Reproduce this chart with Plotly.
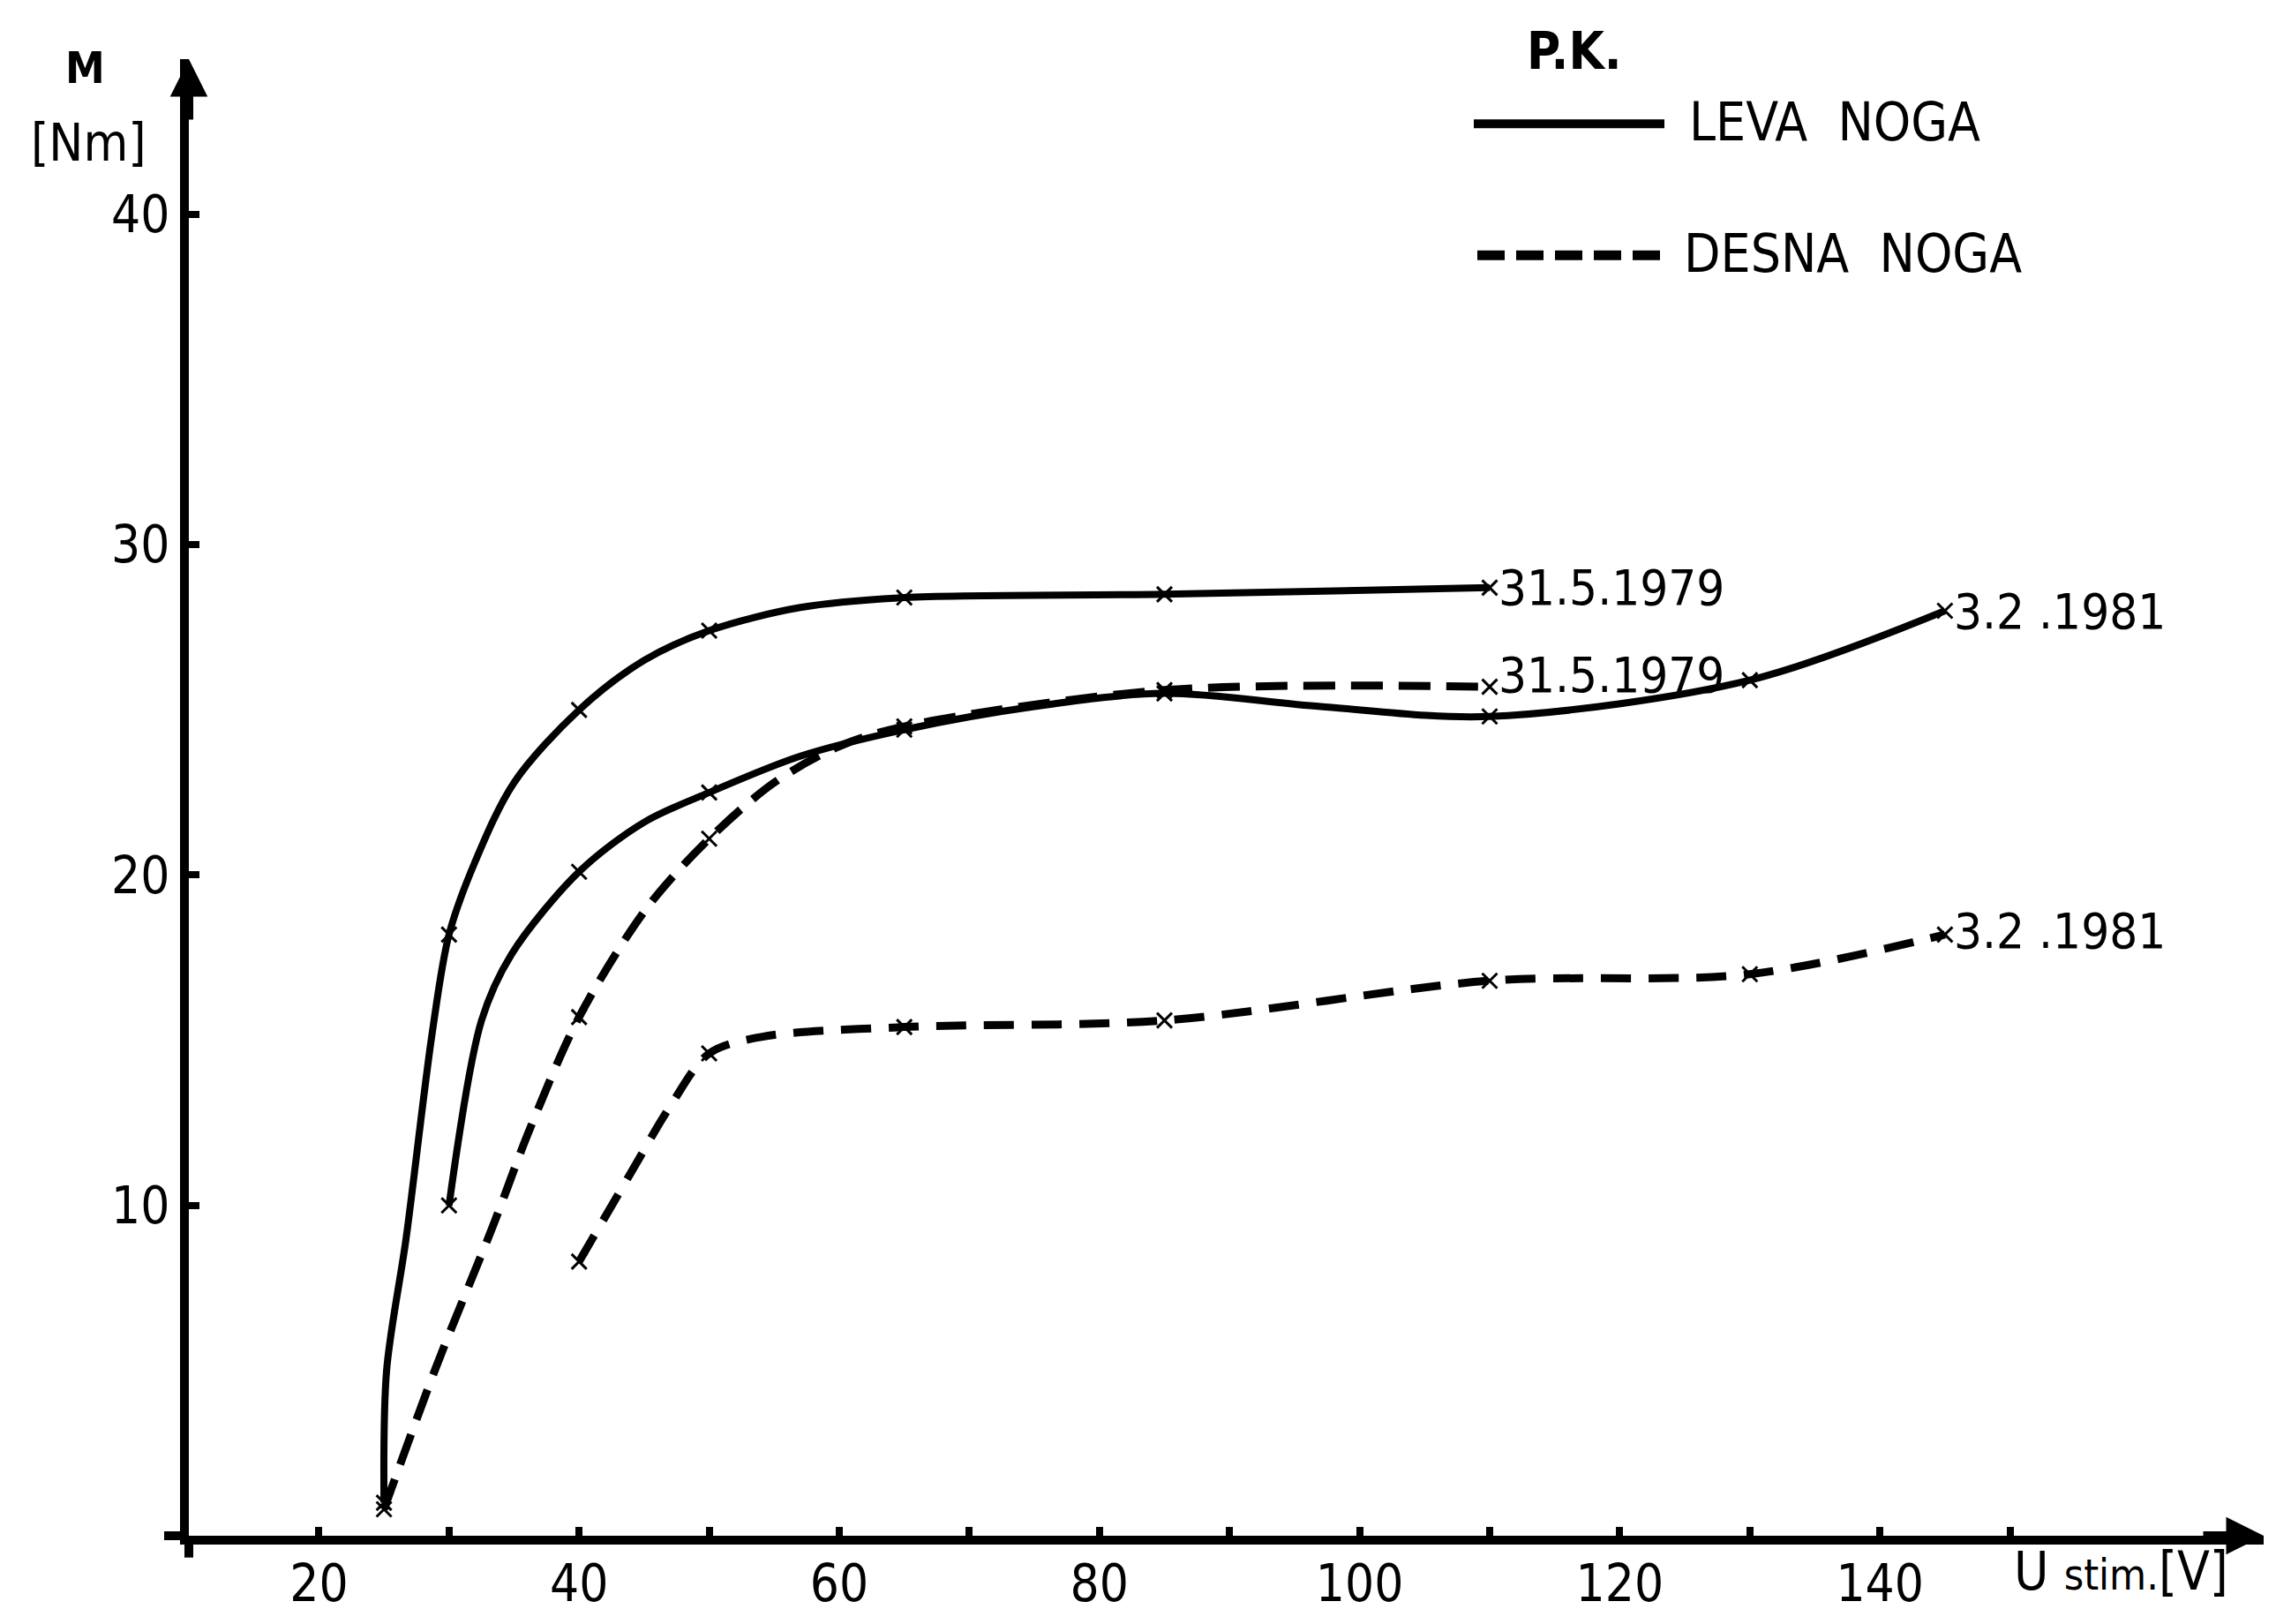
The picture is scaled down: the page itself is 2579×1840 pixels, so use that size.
import plotly.graph_objects as go

# ---------------- data ----------------
x_tick_vals = [20, 30, 40, 50, 60, 70, 80, 90, 100, 110, 120, 130, 140, 150]
x_tick_text = ["20", "", "40", "", "60", "", "80", "", "100", "", "120", "", "140", ""]
y_tick_vals = [10, 20, 30, 40]
y_tick_text = ["10", "20", "30", "40"]

# stimulation voltages at which measurements were marked (x-marks)
measured_u = [25, 30, 40, 50, 65, 85, 110, 130, 145]

# LEVA NOGA (solid)
leva_1979_u = [25, 25.2, 26.7, 28.7, 30, 32, 35, 40, 45, 50, 57, 65, 85, 110]
leva_1979_m = [1.0, 5.0, 9.0, 15.2, 18.2, 20.4, 22.8, 25.0, 26.5, 27.4, 28.1, 28.4, 28.5, 28.7]

leva_1981_u = [30, 32.5, 34.8, 40, 45, 50, 57, 65, 75, 85, 97, 110, 130, 145]
leva_1981_m = [10.0, 15.6, 17.6, 20.1, 21.6, 22.5, 23.6, 24.4, 25.1, 25.5, 25.1, 24.8, 25.9, 28.0]

# DESNA NOGA (dashed)
desna_1979_u = [25, 29, 33.4, 36.2, 40, 45.2, 50, 55, 60, 65, 85, 110]
desna_1979_m = [0.8, 5.1, 9.4, 12.3, 15.7, 19.0, 21.1, 22.8, 23.9, 24.5, 25.6, 25.7]

desna_1981_u = [40, 44, 47, 50, 54, 65, 85, 110, 130, 145]
desna_1981_m = [8.3, 11.0, 13.0, 14.6, 15.1, 15.4, 15.6, 16.8, 17.0, 18.2]

series_names = ["LEVA NOGA 31.5.1979", "LEVA NOGA 3.2.1981",
                "DESNA NOGA 31.5.1979", "DESNA NOGA 3.2.1981"]
series_labels = ["31.5.1979", "3.2 .1981", "31.5.1979", "3.2 .1981"]

# ---------------- figure ----------------
W, H = 2579, 1840
L, R, T, B = 214, 14, 67, 80
FONT = "DejaVu Sans Condensed, DejaVu Sans, sans-serif"


def px2x(px):
    return (px - L) / (W - L - R)


def py2y(py):
    return (H - B - py) / (H - T - B)


fig = go.Figure()

series = [
    (leva_1979_u, leva_1979_m, "solid", 8, 0),
    (leva_1981_u, leva_1981_m, "solid", 8, 0),
    (desna_1979_u, desna_1979_m, "36px,18px", 9, 14),
    (desna_1981_u, desna_1981_m, "34px,20px", 9, 4),
]

for (u, m, dash, w, yshift), name, lab in zip(series, series_names, series_labels):
    fig.add_trace(go.Scatter(
        x=u, y=m, mode="lines", name=name, showlegend=False,
        line=dict(color="black", width=w, dash=dash, shape="spline", smoothing=0.9),
    ))
    mu = [a for a in u if a in measured_u]
    mm = [b for a, b in zip(u, m) if a in measured_u]
    fig.add_trace(go.Scatter(
        x=mu, y=mm, mode="markers", showlegend=False, hoverinfo="skip",
        marker=dict(symbol="x-thin", size=17, line=dict(color="black", width=3)),
    ))
    fig.add_annotation(x=u[-1], y=m[-1], xref="x", yref="y", text=lab,
                       showarrow=False, xanchor="left", yanchor="middle",
                       xshift=8, yshift=yshift,
                       font=dict(family=FONT, size=56, color="black"))

# axis arrowheads
fig.add_annotation(x=0, y=1, xref="paper", yref="paper", ax=0, ay=70,
                   showarrow=True, arrowhead=2, arrowsize=0.85, arrowwidth=10,
                   arrowcolor="black", text="")
fig.add_annotation(x=1, y=0, xref="paper", yref="paper", ax=-70, ay=0,
                   showarrow=True, arrowhead=2, arrowsize=0.85, arrowwidth=10,
                   arrowcolor="black", text="")

# short overhangs of the hand-drawn axes past the origin
fig.add_shape(type="line", xref="paper", yref="paper",
              x0=px2x(186), x1=0, y0=0, y1=0, line=dict(color="black", width=10))
fig.add_shape(type="line", xref="paper", yref="paper",
              x0=0, x1=0, y0=0, y1=py2y(1785), line=dict(color="black", width=10))


def text_ann(px, py, text, size, xanchor="center", bold=False):
    fig.add_annotation(x=px2x(px), y=py2y(py), xref="paper", yref="paper",
                       text=f"<b>{text}</b>" if bold else text, showarrow=False,
                       xanchor=xanchor, yanchor="middle",
                       font=dict(family=FONT, size=size, color="black"))


# axis titles
text_ann(96, 77, "M", 50, bold=True)
text_ann(100, 163, "[Nm]", 58)
text_ann(2280, 1800, "U <span style='font-size:48px'>stim.</span>[V]", 60, xanchor="left")

# legend (hand drawn in the original)
text_ann(1784, 58, "P.K.", 58, bold=True)
fig.add_shape(type="line", xref="paper", yref="paper",
              x0=px2x(1670), x1=px2x(1886), y0=py2y(141), y1=py2y(141),
              line=dict(color="black", width=10))
text_ann(1912, 139, "LEVA  NOGA", 60, xanchor="left")
fig.add_shape(type="line", xref="paper", yref="paper",
              x0=px2x(1674), x1=px2x(1886), y0=py2y(292), y1=py2y(292),
              line=dict(color="black", width=11, dash="31px,13px"))
text_ann(1906, 290, "DESNA  NOGA", 60, xanchor="left")

fig.update_layout(
    width=W, height=H,
    margin=dict(l=L, r=R, t=T, b=B),
    paper_bgcolor="white", plot_bgcolor="white",
    font=dict(family=FONT, size=56, color="black"),
    xaxis=dict(range=[10, 169.5], showline=True, linewidth=10, linecolor="black",
               ticks="inside", ticklen=10, tickwidth=8, tickcolor="black",
               tickvals=x_tick_vals, ticktext=x_tick_text, showgrid=False,
               zeroline=False, tickfont=dict(size=58), ticklabelstandoff=-6),
    yaxis=dict(range=[0, 44.7], showline=True, linewidth=10, linecolor="black",
               ticks="inside", ticklen=12, tickwidth=8, tickcolor="black",
               tickvals=y_tick_vals, ticktext=y_tick_text, showgrid=False,
               zeroline=False, tickfont=dict(size=58)),
)

fig.write_html("out.html")
